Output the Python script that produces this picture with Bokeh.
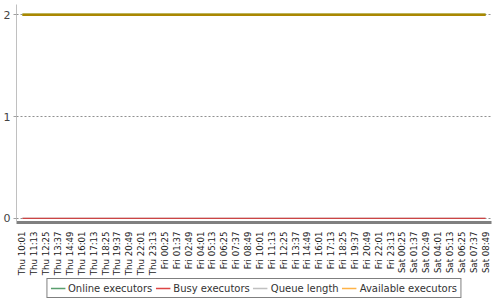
import math
from bokeh.plotting import figure
from bokeh.layouts import column
from bokeh.models import FixedTicker, Legend, LegendItem, FactorRange, Range1d
from bokeh.embed import file_html
from bokeh.resources import INLINE

times = ["Thu 10:01", "Thu 11:13", "Thu 12:25", "Thu 13:37", "Thu 14:49", "Thu 16:01",
         "Thu 17:13", "Thu 18:25", "Thu 19:37", "Thu 20:49", "Thu 22:01", "Thu 23:13",
         "Fri 00:25", "Fri 01:37", "Fri 02:49", "Fri 04:01", "Fri 05:13", "Fri 06:25",
         "Fri 07:37", "Fri 08:49", "Fri 10:01", "Fri 11:13", "Fri 12:25", "Fri 13:37",
         "Fri 14:49", "Fri 16:01", "Fri 17:13", "Fri 18:25", "Fri 19:37", "Fri 20:49",
         "Fri 22:01", "Fri 23:13", "Sat 00:25", "Sat 01:37", "Sat 02:49", "Sat 04:01",
         "Sat 05:13", "Sat 06:25", "Sat 07:37", "Sat 08:49"]
online_executors = [2, 2, 2, 2, 2, 2, 2, 2, 2, 2, 2, 2, 2, 2, 2, 2, 2, 2, 2, 2,
                    2, 2, 2, 2, 2, 2, 2, 2, 2, 2, 2, 2, 2, 2, 2, 2, 2, 2, 2, 2]
busy_executors = [0, 0, 0, 0, 0, 0, 0, 0, 0, 0, 0, 0, 0, 0, 0, 0, 0, 0, 0, 0,
                  0, 0, 0, 0, 0, 0, 0, 0, 0, 0, 0, 0, 0, 0, 0, 0, 0, 0, 0, 0]
queue_length = [0, 0, 0, 0, 0, 0, 0, 0, 0, 0, 0, 0, 0, 0, 0, 0, 0, 0, 0, 0,
                0, 0, 0, 0, 0, 0, 0, 0, 0, 0, 0, 0, 0, 0, 0, 0, 0, 0, 0, 0]
available_executors = [2, 2, 2, 2, 2, 2, 2, 2, 2, 2, 2, 2, 2, 2, 2, 2, 2, 2, 2, 2,
                       2, 2, 2, 2, 2, 2, 2, 2, 2, 2, 2, 2, 2, 2, 2, 2, 2, 2, 2, 2]
series_names = ["Online executors", "Busy executors", "Queue length", "Available executors"]
y_ticks = [0, 1, 2]

FONT = "DejaVu Sans"
STYLES = {
    "Online executors": dict(line_color="#4e9a06", line_width=2.5),
    "Busy executors": dict(line_color="#cc4444", line_width=1.2),
    "Queue length": dict(line_color="#b4b4b4", line_width=1.2),
    "Available executors": dict(line_color="#f57900", line_width=2.5, line_alpha=0.55),
}
LEGEND_STYLES = {
    "Online executors": dict(line_color="#5a9e6e", line_width=1.5),
    "Busy executors": dict(line_color="#dd4444", line_width=1.5),
    "Queue length": dict(line_color="#c0c0c0", line_width=1.5),
    "Available executors": dict(line_color="#ffb347", line_width=1.5),
}
DATA = {
    "Online executors": online_executors,
    "Busy executors": busy_executors,
    "Queue length": queue_length,
    "Available executors": available_executors,
}
DRAW_ORDER = ["Queue length", "Busy executors", "Online executors", "Available executors"]

p = figure(width=500, height=278, output_backend="svg", toolbar_location=None,
           x_range=FactorRange(factors=times, range_padding=0),
           y_range=Range1d(-0.04, 2.1),
           min_border_left=15, min_border_right=9, min_border_top=4, min_border_bottom=56)
p.outline_line_color = None
p.background_fill_color = "white"

for name in DRAW_ORDER:
    p.line(times, DATA[name], **STYLES[name])

p.xgrid.grid_line_color = None
p.ygrid.ticker = FixedTicker(ticks=y_ticks)
p.ygrid.grid_line_color = "#909090"
p.ygrid.grid_line_dash = "2 2"
p.ygrid.grid_line_width = 1

p.yaxis.ticker = FixedTicker(ticks=y_ticks)
p.yaxis.axis_line_color = "#c0c0c0"
p.yaxis.major_tick_line_color = "#a0a0a0"
p.yaxis.major_tick_out = 3
p.yaxis.major_tick_in = 0
p.yaxis.minor_tick_line_color = None
p.yaxis.major_label_text_font = FONT
p.yaxis.major_label_text_font_size = "11px"
p.yaxis.major_label_text_color = "#444444"
p.yaxis.major_label_standoff = 3

p.xaxis.axis_line_color = "#808080"
p.xaxis.axis_line_width = 3
p.xaxis.major_tick_line_color = None
p.xaxis.minor_tick_line_color = None
p.xaxis.major_label_orientation = math.pi / 2
p.xaxis.major_label_text_font = FONT
p.xaxis.major_label_text_font_size = "8.6px"
p.xaxis.major_label_text_color = "#222222"
p.xaxis.major_label_standoff = 3

# legend strip (lines drawn out of its visible range so only the legend shows)
lg = figure(width=500, height=22, output_backend="svg", toolbar_location=None,
            x_range=FactorRange(factors=times, range_padding=0),
            y_range=Range1d(10, 11), x_axis_location=None, y_axis_location=None,
            min_border=0)
lg.outline_line_color = None
lg.xgrid.grid_line_color = None
lg.ygrid.grid_line_color = None
items = []
for name in series_names:
    r = lg.line(times, DATA[name], **LEGEND_STYLES[name])
    items.append(LegendItem(label=name, renderers=[r]))

legend = Legend(items=items, orientation="horizontal", location="top")
legend.label_text_font = FONT
legend.label_text_font_size = "10px"
legend.label_text_color = "#333333"
legend.glyph_width = 15
legend.glyph_height = 12
legend.label_height = 12
legend.label_standoff = 3
legend.spacing = 3
legend.padding = 3
legend.margin = 0
legend.border_line_color = "black"
legend.border_line_width = 1
legend.background_fill_alpha = 1
lg.add_layout(legend)

layout = column(p, lg, spacing=0)
open("out.html", "w").write(file_html(layout, INLINE))
